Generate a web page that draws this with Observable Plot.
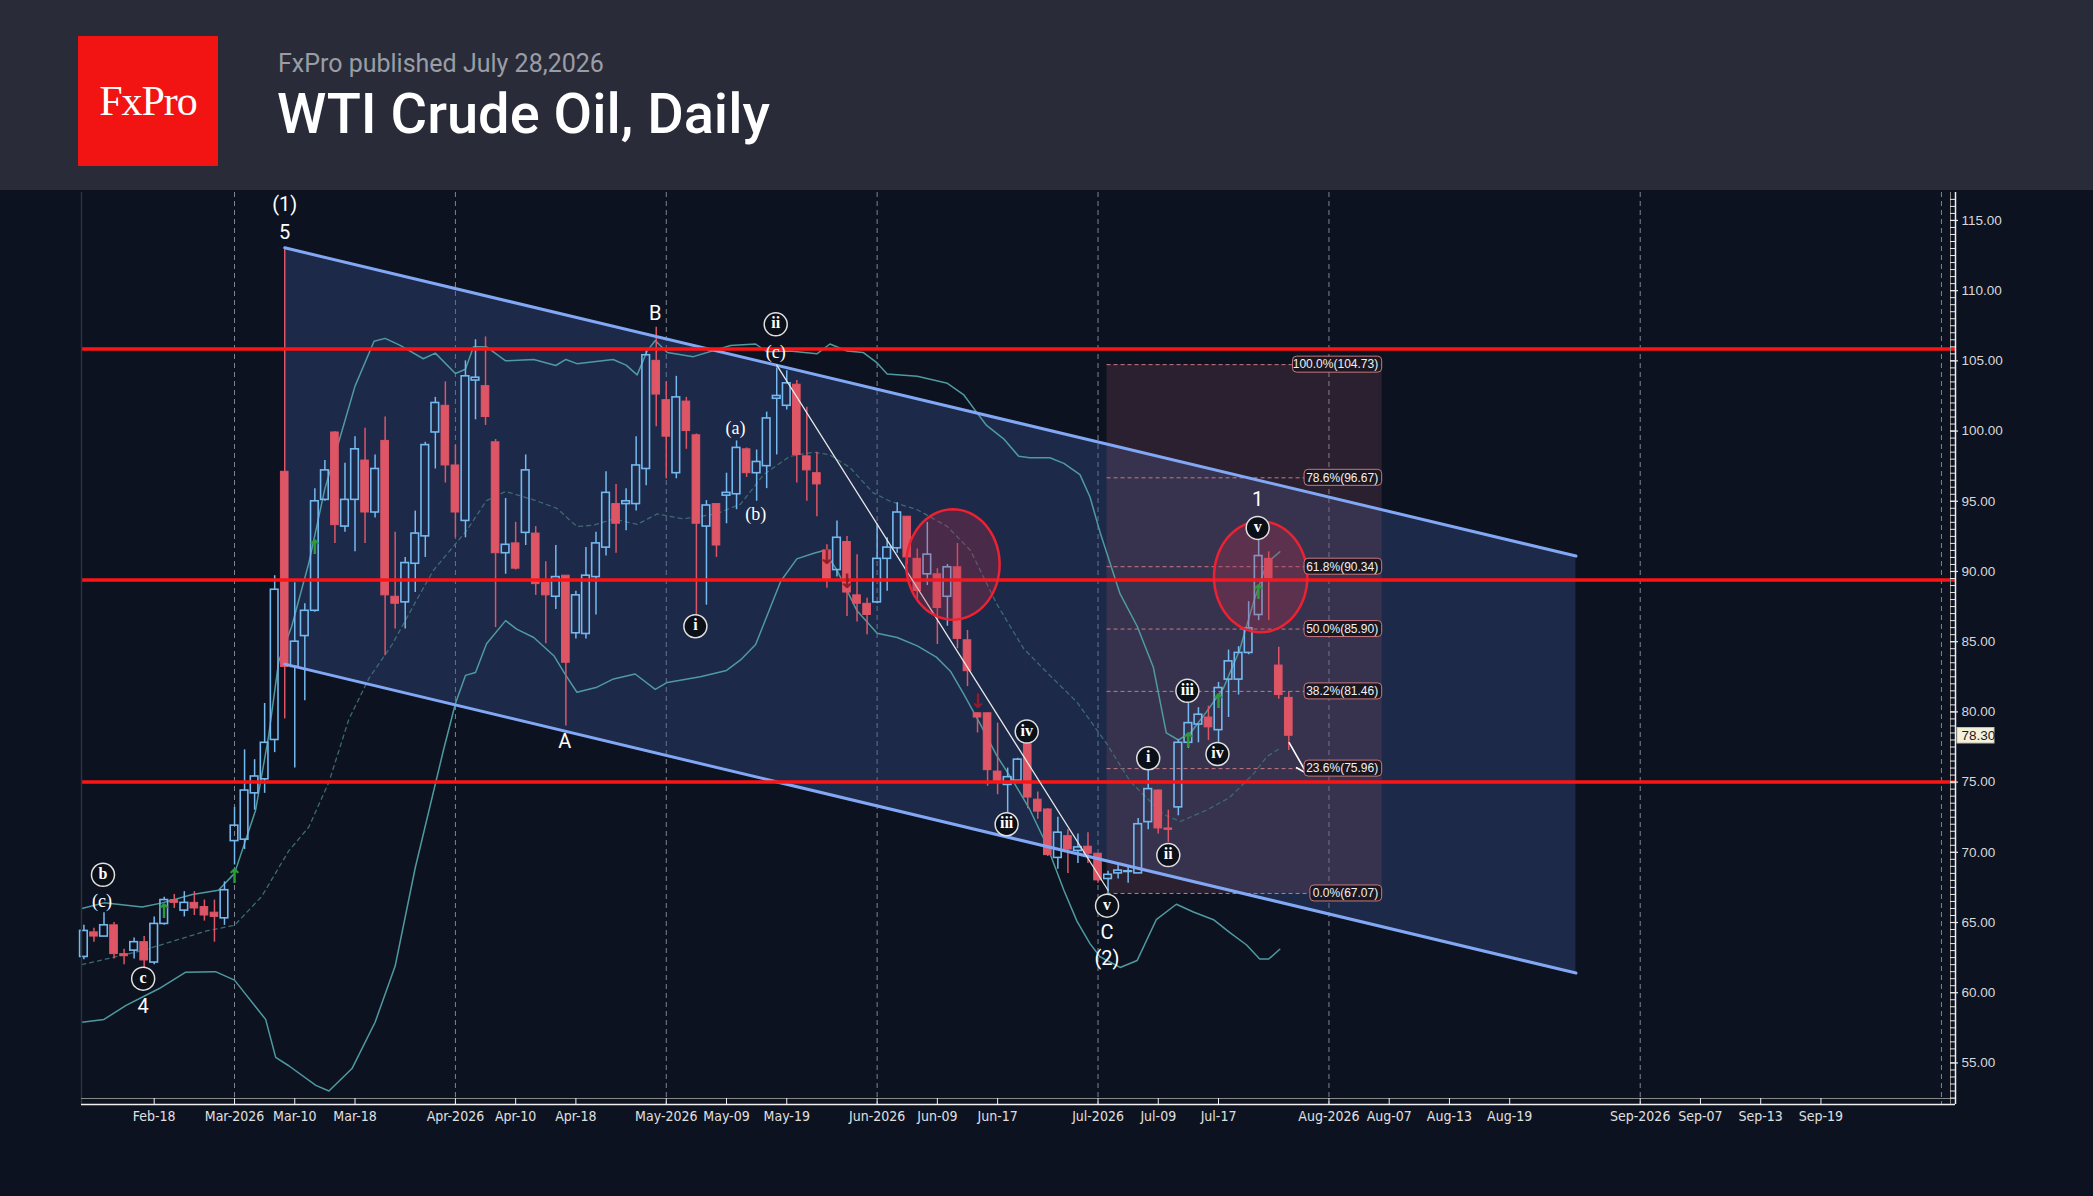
<!DOCTYPE html>
<html><head><meta charset="utf-8">
<script src="https://cdn.jsdelivr.net/npm/d3@7"></script>
<script src="https://cdn.jsdelivr.net/npm/@observablehq/plot@0.6"></script>
<style>
html,body{margin:0;padding:0;background:#0c1220;width:2093px;height:1196px;overflow:hidden}
#header{position:relative;height:190px;background:#292c38}
#logo{position:absolute;left:78px;top:36px;width:140px;height:130px;background:#f21313;color:#fff;font-family:"Liberation Serif","DejaVu Serif",serif;font-size:42px;line-height:130px;text-align:center;letter-spacing:-1px}
#sub{position:absolute;left:278px;top:51px;font-family:Roboto,sans-serif;font-size:25px;line-height:1;color:#9a9da6}
#title{position:absolute;left:277px;top:86px;font-family:Roboto,sans-serif;font-weight:500;font-size:56px;line-height:1;color:#fff}
#chart svg{display:block;overflow:visible}
</style></head><body>
<div id="header"><div id="logo">FxPro</div><div id="sub">FxPro published July 28,2026</div><div id="title">WTI Crude Oil, Daily</div></div>
<div id="chart"></div>
<script>
// ---------- DATA ----------
const firstBar = -7; // trading-day index of first candle (Feb-18 = 0)
const openP  = [62.55,64.3,64.0,64.8,62.75,63.0,63.6,62.15,64.9,66.6,65.85,66.4,66.1,65.7,65.3,70.8,70.9,74.2,75.2,78.0,97.1,83.2,85.4,87.2,95.1,99.9,93.2,95.1,97.9,94.2,99.3,88.2,87.8,90.55,92.5,99.9,101.8,97.55,93.6,103.6,103.2,99.2,91.3,92.0,92.75,92.7,89.2,88.2,89.7,85.6,85.55,89.6,91.7,94.8,94.8,94.8,97.3,105.0,102.2,97.0,102.1,99.7,93.2,94.8,95.4,95.5,98.7,97.0,97.5,102.3,101.8,103.3,98.2,97.0,91.5,90.1,92.1,88.3,87.7,87.8,90.9,91.65,93.9,90.9,89.8,89.8,88.2,90.3,85.1,79.9,79.9,75.75,74.8,75.1,77.7,73.75,73.05,69.6,71.15,70.1,70.4,69.9,68.1,68.5,68.6,68.5,72.15,74.4,71.7,73.2,77.8,79.1,79.6,78.7,82.3,82.3,84.2,86.9,90.9,83.3,81.0];
const highP  = [64.8,64.6,65.7,65.0,63.1,63.9,64.0,65.4,66.8,67.0,67.2,67.2,66.6,66.6,67.9,73.2,77.3,76.6,80.6,89.7,113.05,89.2,87.7,95.9,97.9,99.96,97.7,99.6,100.2,98.3,101.0,92.8,91.0,94.3,99.2,102.4,103.5,99.0,105.0,106.5,106.7,99.4,95.2,93.5,98.3,93.2,90.7,91.85,89.7,88.6,91.7,92.8,97.1,96.2,95.9,99.6,105.7,107.4,103.5,103.9,102.4,99.8,95.05,94.8,97.0,99.3,98.8,98.65,101.35,104.5,104.3,103.6,101.7,98.5,91.9,93.6,92.5,91.2,88.1,93.4,92.4,94.9,93.9,91.6,93.5,90.2,90.5,92.0,85.8,79.95,79.95,79.2,76.0,76.7,77.7,74.3,73.1,72.5,71.6,71.3,71.4,69.9,68.66,69.1,69.0,72.4,75.8,74.45,73.0,78.0,80.6,80.3,80.4,82.1,84.4,84.65,87.85,92.3,91.4,84.6,81.45];
const lowP   = [62.35,63.6,64.0,62.4,62.0,62.4,61.8,62.0,64.8,66.0,65.4,65.5,65.1,63.6,64.8,69.1,70.2,73.0,74.2,77.1,79.5,76.0,80.8,87.1,95.0,92.0,92.8,91.4,92.0,93.8,84.0,85.9,85.9,88.5,91.0,97.3,96.3,92.4,92.4,100.8,100.4,86.0,89.8,90.1,91.85,88.3,84.85,87.3,79.0,85.2,85.2,86.9,91.1,91.3,92.9,94.3,96.1,100.3,96.6,96.6,98.7,86.9,87.6,91.0,93.4,94.4,96.7,95.0,95.9,98.3,101.5,96.3,95.0,93.9,88.8,89.6,86.8,86.4,85.5,87.7,88.6,91.3,90.5,88.0,89.0,84.8,86.1,84.5,81.8,78.5,74.7,74.1,72.7,75.0,73.1,72.35,69.7,68.8,68.5,69.2,69.2,67.8,67.07,68.1,67.8,68.5,71.6,71.3,70.7,72.6,77.4,77.8,77.96,77.8,79.6,81.2,84.07,86.5,86.5,80.9,77.25];
const closeP = [64.4,64.0,64.8,62.75,62.6,63.6,62.3,64.9,66.6,66.4,66.4,66.0,65.5,65.4,67.3,71.9,74.4,75.4,77.8,88.7,83.2,85.0,87.2,95.0,97.2,93.3,95.1,98.7,94.2,97.3,88.3,87.7,90.6,92.7,99.0,102.0,97.55,94.2,103.9,103.8,101.0,91.3,91.9,90.2,97.2,89.1,88.3,89.6,83.5,88.3,89.7,92.0,95.6,93.4,95.0,97.55,105.4,102.6,99.6,102.4,100.0,93.4,94.7,91.85,95.6,98.8,97.0,97.8,100.9,102.5,103.4,98.3,97.2,96.2,89.4,92.4,88.5,87.7,86.9,90.9,91.7,94.2,91.0,88.6,91.2,87.4,90.3,85.2,82.9,79.6,75.85,75.0,75.35,76.6,73.9,72.9,69.8,71.4,70.2,70.35,69.9,68.0,68.4,68.7,68.65,72.0,74.5,71.7,71.6,77.8,79.2,79.8,78.9,81.7,83.6,84.2,85.95,91.1,89.5,81.2,78.3];

// Bollinger bands: [bar index, value]
const bbUpper = [[-7.2,66.0],[-5,66.4],[-1.2,66.1],[0.8,66.4],[3.8,67.0],[6.4,67.3],[8,68.5],[10.1,73.0],[11.4,78.3],[12.4,83.6],[13.7,86.1],[15.4,90.6],[17,95.9],[18.7,100.0],[20,103.2],[21.9,106.4],[23,106.6],[24.5,106.1],[26.8,105.15],[28,105.55],[30,104.1],[31,104.4],[31.8,106.0],[33.1,106.0],[35,105.0],[37.8,105.1],[40,104.67],[41,105.1],[42.1,104.8],[45.7,105.1],[47,104.7],[48.1,104.0],[49.1,105.7],[49.9,106.45],[51.1,105.6],[53.7,105.3],[57.4,106.1],[59.9,106.2],[61,105.65],[63.3,105.7],[66,105.5],[67.3,106.2],[69,105.7],[70.6,105.6],[72,104.85],[73,104.06],[76,103.9],[79,103.4],[80.6,102.6],[81.9,101.35],[82.9,100.4],[84.6,99.45],[86.1,98.2],[87.2,98.1],[89.2,98.1],[90.6,97.7],[92.2,96.9],[93.2,95.3],[94.2,92.8],[96.2,88.4],[97.9,86.1],[99.5,83.2],[100.8,78.5],[102,78.0],[103.2,78.5],[104.8,80.0],[106.5,81.7],[108.1,84.4],[109.5,87.85],[110.8,90.6],[112.1,91.4]];
const bbMiddle = [[-7.2,62.0],[-1.2,63.0],[5.2,64.4],[8,64.8],[10.7,66.85],[13.4,70.1],[15.4,71.8],[17.4,75.0],[19.4,79.5],[21.4,82.4],[23.7,84.8],[26,87.8],[27.8,90.07],[31.1,92.9],[33.1,95.05],[35,95.7],[37.8,95.1],[40.1,94.5],[42.1,93.2],[43.8,93.3],[45.75,93.75],[48.1,93.35],[50.1,94.1],[52.7,93.75],[56,94.1],[58.4,94.8],[60.7,96.9],[63.3,98.2],[65.7,98.5],[67.3,98.3],[69.3,97.4],[71.6,95.6],[73.3,95.0],[76,94.4],[79,93.2],[81.3,91.5],[83.9,87.7],[86.6,84.5],[89.2,82.6],[91.9,80.7],[93.2,79.4],[94.9,77.7],[97.2,75.05],[100.5,72.7],[102.2,72.2],[104.8,73.0],[107.1,73.9],[109.5,75.6],[110.8,76.8],[112.1,77.4]];
const bbLower = [[-7.2,57.9],[-5,58.1],[-2.8,59.1],[0.5,60.3],[3.1,61.45],[6.1,61.5],[8,60.9],[9.1,59.9],[11.1,58.1],[12.1,55.4],[13.4,54.8],[16.1,53.4],[17.4,53.0],[19.7,54.6],[22,57.9],[24,61.9],[26,68.9],[28.8,77.25],[30,80.6],[31,82.6],[32,82.8],[33.1,84.85],[35,86.5],[36.1,85.9],[37.8,85.3],[39.8,84.0],[41,82.6],[42.1,81.4],[44.1,81.76],[45.75,82.35],[47.9,82.7],[49.9,81.6],[51.1,82.1],[54.4,82.5],[57,82.95],[58.4,83.7],[59.9,84.8],[62.4,89.3],[64,90.9],[65.7,91.3],[66.7,91.5],[68,90.1],[70,87.2],[72,85.6],[74,85.3],[76,84.7],[77.9,83.9],[79.3,82.9],[80.6,81.3],[82.3,79.1],[83.9,76.9],[85.6,75.0],[87.2,73.05],[88.9,70.5],[90.6,67.3],[91.9,65.1],[93.2,63.5],[94.2,62.56],[96.2,61.8],[97.9,62.3],[99.8,65.2],[101.8,66.3],[103.5,65.75],[105.5,65.2],[107.1,64.3],[108.8,63.4],[110.1,62.4],[111,62.4],[112.1,63.1]];

// Horizontal levels
const redLevels = [105.85, 89.4, 75.0];
// Descending channel: [bar index, value]
const channelTop = [[13,113.05],[141.6,91.1]];
const channelBot = [[13,83.4],[141.6,61.4]];
// Diagonal trend line
const trendLine = [[62,104.7],[95,67.3]];
// Fibonacci retracement
const fibPct = ["100.0%","78.6%","61.8%","50.0%","38.2%","23.6%","0.0%"];
const fibVal = [104.73,96.67,90.34,85.90,81.46,75.96,67.07];
const fibStart = 94.9, fibEnd = 122.3;
// Highlight ellipses: centre bar, centre value, radius bars, radius value
const ellipses = [[79.55,90.5,4.65,3.93],[110.2,89.62,4.65,3.95]];
// Projection arrow
const projArrow = [113.05,77.8,114.8,75.6];
// Wave labels
const plainText = ["(1)","5","B","A","1","C","(2)","4"];
const plainX = [13,13,49.9,40.9,109.9,94.9,94.9,-1.1];
const plainY = [116.1,114.1,108.4,77.9,95.1,64.3,62.4,59.0];
const serifText = ["(c)","(c)","(a)","(b)"];
const serifX = [-5.2,61.9,57.9,59.9];
const serifY = [66.5,105.6,100.2,94.1];
const circText = ["b","c","ii","i","iv","iii","v","i","ii","iii","iv","v"];
const circX = [-5.1,-1.1,61.9,53.9,86.9,84.9,94.9,99.0,101.0,102.9,105.9,109.9];
const circY = [68.4,61.0,107.6,86.1,78.6,72.0,66.2,76.7,69.8,81.5,77.0,93.1];
const upArrX = [1,8,16,103,106,110], upArrY = [65.8,68.3,91.7,77.96,80.7,88.5];
const dnArrX = [67,69,82], dnArrY = [91.0,89.3,80.7];
// Axes
const xTickIdx = [0,8,14,20,30,36,42,51,57,63,72,78,84,94,100,106,117,123,129,135,148,154,160,166];
const xTickLab = ["Feb-18","Mar-2026","Mar-10","Mar-18","Apr-2026","Apr-10","Apr-18","May-2026","May-09","May-19","Jun-2026","Jun-09","Jun-17","Jul-2026","Jul-09","Jul-17","Aug-2026","Aug-07","Aug-13","Aug-19","Sep-2026","Sep-07","Sep-13","Sep-19"];
const monthStarts = [8,30,51,72,94,117,148,178];
const yMajor = [55,60,65,70,75,80,85,90,95,100,105,110,115];
const lastPrice = 78.30;

// ---------- BUILD ----------
const X0=-7.24, X1=179.4, Y0=52.04, Y1=116.99;
const bars = openP.map((o,k)=>({x:firstBar+k,o,h:highP[k],l:lowP[k],c:closeP[k]}));
const up = bars.filter(b=>b.c>=b.o), dn = bars.filter(b=>b.c<b.o);
const blue="#74b9f0", red="#de5566";
const hw = 0.38;
const pts = a => a.map(([x,y])=>({x,y}));
const chan = [{x:channelTop[0][0],hi:channelTop[0][1],lo:channelBot[0][1]},{x:channelTop[1][0],hi:channelTop[1][1],lo:channelBot[1][1]}];
const fibs = fibPct.map((p,i)=>({v:fibVal[i],t:`${p}(${fibVal[i].toFixed(2)})`}));
const ellPts = ellipses.map(([cx,cy,rx,ry])=>d3.range(0,361,5).map(a=>({x:cx+rx*Math.cos(a*Math.PI/180),y:cy+ry*Math.sin(a*Math.PI/180)})));
const plain = plainText.map((t,i)=>({t,x:plainX[i],y:plainY[i]}));
const serif = serifText.map((t,i)=>({t,x:serifX[i],y:serifY[i]}));
const circ = circText.map((t,i)=>({t,x:circX[i],y:circY[i]}));
const ups = upArrX.map((x,i)=>({x,y:upArrY[i]}));
const dns = dnArrX.map((x,i)=>({x,y:dnArrY[i]}));
const xt = xTickIdx.map((x,i)=>({x,t:xTickLab[i]}));
const yMinor = d3.range(52.5,117,0.5);
const pxX = 1874/(X1-X0); // px per bar
const narrow = "'Liberation Sans Narrow','Arial Narrow','DejaVu Sans Condensed',sans-serif";

const marks = [
  Plot.ruleX(monthStarts,{stroke:"#80858f",strokeDasharray:"5,4",strokeWidth:1}),
  Plot.areaY(chan,{x:"x",y1:"lo",y2:"hi",fill:"#3a5290",fillOpacity:0.36}),
  Plot.rect([0],{x1:fibStart,x2:fibEnd,y1:fibVal[6],y2:fibVal[0],fill:"#b06070",fillOpacity:0.19}),
  Plot.ruleY(fibVal,{x1:fibStart,x2:fibEnd,stroke:"#c8787e",strokeDasharray:"4,3",strokeWidth:1}),
  Plot.line(pts(bbUpper),{x:"x",y:"y",stroke:"#4f9aa0",strokeWidth:1.5}),
  Plot.line(pts(bbLower),{x:"x",y:"y",stroke:"#4f9aa0",strokeWidth:1.5}),
  Plot.line(pts(bbMiddle),{x:"x",y:"y",stroke:"#3d6a72",strokeWidth:1.3,strokeDasharray:"4,4"}),
  // wicks
  Plot.ruleX(up,{x:"x",y1:"h",y2:"c",stroke:blue,strokeWidth:1.5}),
  Plot.ruleX(up,{x:"x",y1:"o",y2:"l",stroke:blue,strokeWidth:1.5}),
  Plot.ruleX(dn,{x:"x",y1:"h",y2:"o",stroke:red,strokeWidth:1.5}),
  Plot.ruleX(dn,{x:"x",y1:"c",y2:"l",stroke:red,strokeWidth:1.5}),
  // bodies
  Plot.rect(dn,{x1:b=>b.x-hw,x2:b=>b.x+hw,y1:"o",y2:"c",fill:red,stroke:red,strokeWidth:1}),
  Plot.rect(up,{x1:b=>b.x-hw,x2:b=>b.x+hw,y1:"o",y2:"c",fill:"none",stroke:blue,strokeWidth:1.6}),
  // channel lines
  Plot.line(pts(channelTop),{x:"x",y:"y",stroke:"#82a8f5",strokeWidth:3}),
  Plot.line(pts(channelBot),{x:"x",y:"y",stroke:"#82a8f5",strokeWidth:3}),
  // red horizontal levels
  Plot.ruleY(redLevels,{stroke:"#ff1414",strokeWidth:3.5}),
  // trend line
  Plot.line(pts(trendLine),{x:"x",y:"y",stroke:"#e6e6e6",strokeWidth:1.3}),
  // ellipses
  ...ellPts.map(p=>Plot.line(p,{x:"x",y:"y",stroke:"#ec2233",strokeWidth:2.5,fill:"#c03048",fillOpacity:0.28})),
  // projection arrow
  Plot.arrow([0],{x1:projArrow[0],y1:projArrow[1],x2:projArrow[2],y2:projArrow[3],stroke:"#ffffff",strokeWidth:1.6,headLength:14}),
  // fib label boxes
  Plot.rect(fibs,{x1:d=>fibEnd-(d.t.length*5.8+8)/pxX,x2:fibEnd,y1:d=>d.v-0.57,y2:d=>d.v+0.57,fill:"#1b1620",stroke:"#c8787e",strokeWidth:1,rx:4}),
  Plot.text(fibs,{x:fibEnd,y:"v",text:"t",textAnchor:"end",dx:-4,fill:"#f2f2f2",fontSize:12,fontFamily:"'Liberation Sans',Arial,sans-serif"}),
  // arrows on candles
  Plot.text(ups,{x:"x",y:"y",text:()=>"↑",fill:"#2f9a3a",fontSize:20,fontWeight:"bold",fontFamily:"'DejaVu Sans',sans-serif"}),
  Plot.text(dns,{x:"x",y:"y",text:()=>"↓",fill:"#8e1c28",fontSize:20,fontWeight:"bold",fontFamily:"'DejaVu Sans',sans-serif"}),
  // wave labels
  Plot.text(plain,{x:"x",y:"y",text:"t",fill:"#ffffff",fontSize:20,fontFamily:"Roboto,sans-serif"}),
  Plot.text(serif,{x:"x",y:"y",text:"t",fill:"#ffffff",fontSize:18,fontFamily:"'Liberation Serif','DejaVu Serif',serif"}),
  Plot.dot(circ,{x:"x",y:"y",r:11.5,fill:"#0b0f18",stroke:"#e0e0e0",strokeWidth:1.5}),
  Plot.text(circ,{x:"x",y:"y",text:"t",fill:"#ffffff",fontSize:16,fontWeight:"bold",fontFamily:"'Liberation Serif','DejaVu Serif',serif",dy:-1}),
  // frame / axes
  Plot.ruleX([X0],{stroke:"#2c3240",strokeWidth:1.5}),
  Plot.ruleY([Y0],{stroke:"#f0f0f0",strokeWidth:1.5}),
  Plot.ruleY([Y0+6/14.04],{x1:X0,x2:X1,stroke:"#8a8a8a",strokeWidth:1}),
  Plot.ruleX(xTickIdx,{y1:Y0,y2:Y0+6/14.04,stroke:"#f0f0f0",strokeWidth:1}),
  Plot.text(xt,{x:"x",y:Y0,text:"t",dy:12,fill:"#e0e0e0",fontSize:14,fontFamily:narrow}),
  Plot.ruleX([X1],{stroke:"#f0f0f0",strokeWidth:1.5}),
  Plot.ruleX([X1-5/pxX],{stroke:"#8a8a8a",strokeWidth:1}),
  Plot.ruleY(yMinor,{x1:X1-5/pxX,x2:X1,stroke:"#e8e8e8",strokeWidth:1}),
  Plot.ruleY(yMajor,{x1:X1-5/pxX,x2:X1+3/pxX,stroke:"#e8e8e8",strokeWidth:1.2}),
  Plot.text(yMajor,{x:X1,y:d=>d,text:d=>d.toFixed(2),dx:6,textAnchor:"start",fill:"#d8d8d8",fontSize:13.5,fontFamily:"'Liberation Sans',Arial,sans-serif"}),
  Plot.rect([lastPrice],{x1:X1+2/pxX,x2:X1+39/pxX,y1:d=>d-0.55,y2:d=>d+0.55,fill:"#f4f0da",stroke:"#c8c4b0",strokeWidth:1}),
  Plot.text([lastPrice],{x:X1,y:d=>d,text:d=>d.toFixed(2),dx:6,textAnchor:"start",fill:"#1a1a1a",fontSize:13.5,fontFamily:"'Liberation Sans',Arial,sans-serif"})
];

const chart = Plot.plot({
  width:2093, height:1006,
  marginLeft:81, marginRight:138, marginTop:2, marginBottom:92,
  x:{domain:[X0,X1],axis:null},
  y:{domain:[Y0,Y1],axis:null},
  style:{background:"transparent",color:"#fff",overflow:"visible"},
  marks
});
document.getElementById("chart").appendChild(chart);
</script></body></html>
